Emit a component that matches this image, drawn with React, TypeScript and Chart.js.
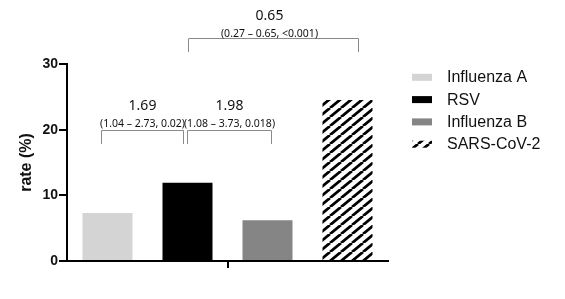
import React, { useEffect, useRef } from 'react';
import { Chart, registerables } from 'chart.js';

Chart.register(...registerables);

const categories = [''];
const seriesNames = ['Influenza A', 'RSV', 'Influenza B', 'SARS-CoV-2'];
const seriesValues = [7.3, 11.9, 6.2, 24.5];
const yTickValues = [0, 10, 20, 30];
const yTitle = 'rate (%)';
const ratioLabels = ['1.69', '1.98', '0.65'];
const ciLabels = ['(1.04 – 2.73, 0.02)', '(1.08 – 3.73, 0.018)', '(0.27 – 0.65, <0.001)'];
const comparisonPairs = [[0, 1], [1, 2], [1, 3]];
const bracketLevels = [20, 20, 34];

function makeHatch(): CanvasPattern | string {
  const w = 11;
  const h = 9;
  const p = document.createElement('canvas');
  p.width = w;
  p.height = h;
  const c = p.getContext('2d');
  if (!c) return '#000';
  c.fillStyle = '#ffffff';
  c.fillRect(0, 0, w, h);
  c.strokeStyle = '#000000';
  c.lineWidth = 2.8;
  c.beginPath();
  for (const x0 of [-w, 0, w]) {
    c.moveTo(x0, h);
    c.lineTo(x0 + w, 0);
  }
  c.stroke();
  const pat = c.createPattern(p, 'repeat');
  return pat || '#000';
}

const overlayPlugin = {
  id: 'overlay',
  afterDraw(chart: any) {
    const ctx = chart.ctx as CanvasRenderingContext2D;
    const yScale = chart.scales.y;
    const centers = chart.data.datasets.map((_: any, i: number) => chart.getDatasetMeta(i).data[0].x);
    const xOff = [[-6, -4], [0, 3], [1, 10]];
    const ratioDy = [-24.5, -24.5, -22];
    const ciDy = [-6.7, -6.7, -4.5];
    const textDx = [0, 0, -4];
    const leg = 13.5;

    ctx.save();
    comparisonPairs.forEach((pair, k) => {
      const x1 = Math.round(centers[pair[0]] + xOff[k][0]) + 0.5;
      const x2 = Math.round(centers[pair[1]] + xOff[k][1]) + 0.5;
      const yb = Math.round(yScale.getPixelForValue(bracketLevels[k])) + 0.5;
      ctx.strokeStyle = '#8a8a8a';
      ctx.lineWidth = 1;
      ctx.beginPath();
      ctx.moveTo(x1, yb + leg);
      ctx.lineTo(x1, yb);
      ctx.lineTo(x2, yb);
      ctx.lineTo(x2, yb + leg);
      ctx.stroke();

      const mx = (x1 + x2) / 2 + textDx[k];
      ctx.fillStyle = '#111111';
      ctx.textAlign = 'center';
      ctx.textBaseline = 'middle';
      ctx.font = '14px "Noto Sans"';
      ctx.fillText(ratioLabels[k], mx, yb + ratioDy[k]);
      ctx.font = '10.5px "Noto Sans"';
      ctx.fillText(ciLabels[k], mx, yb + ciDy[k]);
    });

    // legend
    const lx = 412;
    const ly = 77.3;
    const step = 22.3;
    chart.data.datasets.forEach((ds: any, i: number) => {
      const cy = ly + step * i;
      ctx.fillStyle = ds.backgroundColor;
      ctx.fillRect(lx, cy - 3.5, 20, 7);
      ctx.fillStyle = '#111111';
      ctx.textAlign = 'left';
      ctx.textBaseline = 'middle';
      ctx.font = '16px "Liberation Sans"';
      ctx.fillText(ds.label, 447, cy + 0.5);
    });
    ctx.restore();
  },
};

export default function App() {
  const ref = useRef<HTMLCanvasElement | null>(null);

  useEffect(() => {
    if (!ref.current) return;
    const colors = ['#d4d4d4', '#000000', '#858585', makeHatch()];
    const chart = new Chart(ref.current, {
      type: 'bar',
      data: {
        labels: categories,
        datasets: seriesNames.map((name, i) => ({
          label: name,
          data: [seriesValues[i]],
          backgroundColor: colors[i] as any,
          borderWidth: 0,
          categoryPercentage: 0.997,
          barPercentage: 0.625,
        })),
      },
      options: {
        responsive: false,
        animation: false,
        devicePixelRatio: 1,
        layout: { padding: { top: 64, right: 177, left: 0, bottom: 0 } },
        plugins: {
          legend: { display: false },
          tooltip: { enabled: false },
          title: { display: false },
        },
        scales: {
          x: {
            offset: true,
            grid: {
              offset: false,
              drawOnChartArea: false,
              drawTicks: true,
              tickLength: 7,
              color: '#000',
              lineWidth: 2,
            },
            border: { display: true, color: '#000', width: 2 },
            ticks: { display: true, font: { size: 1 } },
            afterFit: (scale: any) => {
              scale.height = 38;
            },
          },
          y: {
            min: 0,
            max: 30,
            afterBuildTicks: (scale: any) => {
              scale.ticks = yTickValues.map((v) => ({ value: v }));
            },
            grid: {
              drawOnChartArea: false,
              drawTicks: true,
              tickLength: 8,
              color: '#000',
              lineWidth: 2,
            },
            border: { display: true, color: '#000', width: 2 },
            ticks: {
              padding: 1,
              color: '#111',
              font: { family: '"Liberation Sans"', size: 14, weight: 'bold' },
            },
            title: {
              display: true,
              text: yTitle,
              color: '#111',
              font: { family: '"Liberation Sans"', size: 16, weight: 'bold' },
              padding: { top: 17, bottom: 0 },
            },
            afterFit: (scale: any) => {
              scale.width = 67;
            },
          },
        },
      },
      plugins: [overlayPlugin],
    });
    return () => chart.destroy();
  }, []);

  return (
    <div style={{ position: 'absolute', left: 0, top: 0, width: 565, height: 299, background: '#fff' }}>
      <canvas ref={ref} width={565} height={299} />
    </div>
  );
}
